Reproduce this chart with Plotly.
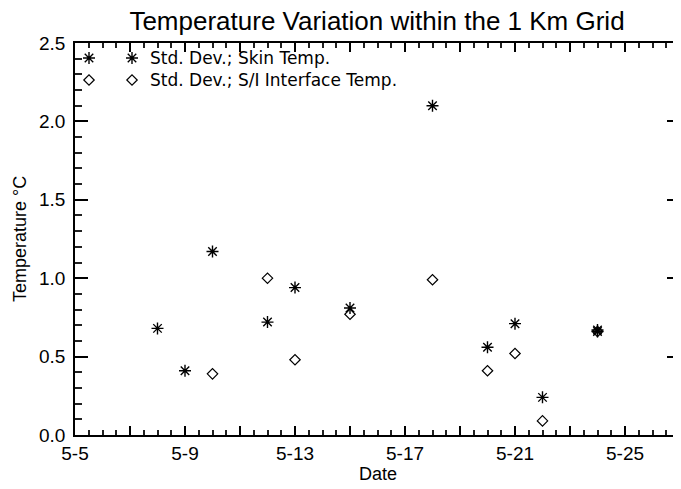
import plotly.graph_objects as go

# ---- data (day of May, std. dev. in deg C) ----
skin_days = [8, 9, 10, 12, 13, 15, 18, 20, 21, 22, 24, 24]
skin_vals = [0.68, 0.41, 1.17, 0.72, 0.94, 0.81, 2.10, 0.56, 0.71, 0.24, 0.66, 0.67]
si_days = [10, 12, 13, 15, 18, 20, 21, 22, 24]
si_vals = [0.39, 1.00, 0.48, 0.77, 0.99, 0.41, 0.52, 0.09, 0.66]

major_ticks = [5, 7, 9, 11, 13, 15, 17, 19, 21, 23, 25, 27]
major_text = ["5-5", "", "5-9", "", "5-13", "", "5-17", "", "5-21", "", "5-25", ""]

legend_names = ["Std. Dev.; Skin Temp.", "Std. Dev.; S/I Interface Temp."]

# ---- layout geometry (pixels of the 681x489 window) ----
OFF = 8                      # default page margin around the plot div
W, H = 681 - OFF, 489 - OFF  # figure size that fits the window
PL, PR, PT, PB = 75, 680, 43, 435   # plot-area edges in window pixels
L, T = PL - OFF, PT - OFF
R, B = W - (PR - OFF), H - (PB - OFF)
PW, PH = PR - PL, PB - PT

def px_x(x):
    return (x - PL) / PW

def px_y(y):
    return (PB - y) / PH

FONT = "Liberation Sans, Arial, Helvetica, sans-serif"
ast = dict(symbol="asterisk-open", size=10, color="black", line=dict(color="black", width=1.4))
dia = dict(symbol="diamond-open", size=8, color="black", line=dict(color="black", width=1.2))

fig = go.Figure()
fig.add_trace(go.Scatter(x=skin_days, y=skin_vals, mode="markers", marker=ast,
                         name=legend_names[0], showlegend=False))
fig.add_trace(go.Scatter(x=si_days, y=si_vals, mode="markers", marker=dia,
                         name=legend_names[1], showlegend=False))

# legend glyphs (two per row, IDL style) on a hidden overlay axis
leg_x = [px_x(89), px_x(132)]
leg_y = [px_y(58), px_y(80)]
fig.add_trace(go.Scatter(x=leg_x, y=[leg_y[0]] * 2, mode="markers", marker=ast,
                         xaxis="x2", yaxis="y2", showlegend=False, hoverinfo="skip"))
fig.add_trace(go.Scatter(x=leg_x, y=[leg_y[1]] * 2, mode="markers", marker=dia,
                         xaxis="x2", yaxis="y2", showlegend=False, hoverinfo="skip"))

annotations = []
for name, yy in zip(legend_names, leg_y):
    annotations.append(dict(text=name, x=px_x(148), y=yy, xref="paper", yref="paper",
                            xanchor="left", yanchor="middle", showarrow=False,
                            font=dict(family="DejaVu Sans", size=17, color="black")))
annotations.append(dict(text="Temperature °C", textangle=-90, x=px_x(20), y=0.5,
                        xref="paper", yref="paper", xanchor="center", yanchor="middle",
                        showarrow=False, font=dict(family=FONT, size=18, color="black")))
annotations.append(dict(text="Date", x=0.5, y=px_y(474), xref="paper", yref="paper",
                        xanchor="center", yanchor="middle", showarrow=False,
                        font=dict(family=FONT, size=18, color="black")))

fig.update_layout(
    template="none",
    width=W, height=H,
    margin=dict(l=L, r=R, t=T, b=B, autoexpand=False),
    paper_bgcolor="white", plot_bgcolor="white",
    title=dict(text="Temperature Variation within the 1 Km Grid",
               x=px_x(377), xanchor="center", xref="paper",
               y=1 - (21 - OFF) / H, yanchor="middle", yref="container",
               font=dict(family=FONT, size=26, color="black")),
    annotations=annotations,
    xaxis=dict(range=[5, 27], tickmode="array", tickvals=major_ticks, ticktext=major_text,
               ticks="inside", ticklen=9, tickwidth=1.5, tickcolor="black",
               showline=True, linecolor="black", linewidth=1.5, mirror="ticks",
               showgrid=False, zeroline=False,
               minor=dict(tickmode="linear", tick0=5, dtick=0.5, ticks="inside",
                          ticklen=5, tickwidth=1.5, tickcolor="#222222"),
               tickfont=dict(family=FONT, size=19, color="black")),
    yaxis=dict(range=[0, 2.5], tickmode="linear", tick0=0, dtick=0.5, tickformat=".1f",
               ticks="inside", ticklen=13, tickwidth=1.5, tickcolor="black",
               showline=True, linecolor="black", linewidth=1.5, mirror="ticks",
               showgrid=False, zeroline=False, ticklabelstandoff=4,
               minor=dict(tickmode="linear", tick0=0, dtick=0.1, ticks="inside",
                          ticklen=7, tickwidth=1.5, tickcolor="#222222"),
               tickfont=dict(family=FONT, size=19, color="black")),
    xaxis2=dict(range=[0, 1], overlaying="x", visible=False, fixedrange=True),
    yaxis2=dict(range=[0, 1], overlaying="y", visible=False, fixedrange=True),
    showlegend=False,
)

fig.write_html("out.html")
